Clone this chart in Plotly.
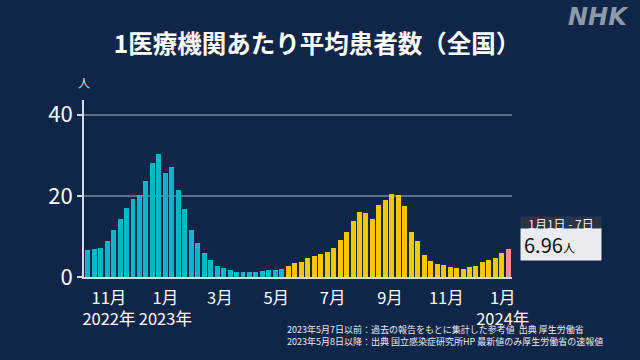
import pandas as pd
import plotly.graph_objects as go

# ---- data ----
weeks = pd.date_range("2022-10-09", "2024-01-07", freq="7D")  # week-ending dates (Sunday)

mhlw_values = [6.6, 6.8, 7.2, 8.8, 11.7, 14.2, 17.0, 19.2, 20.1, 23.7, 28.1, 30.2,
               25.6, 27.2, 21.5, 16.8, 11.5, 8.4, 5.8, 4.1, 2.7, 2.2, 1.7, 1.3,
               1.25, 1.2, 1.35, 1.4, 1.75, 1.8, 1.85]
niid_values = [2.63, 3.55, 3.6, 4.6, 5.1, 5.6, 6.1, 7.2, 9.1, 11.0, 13.9, 15.9,
               15.8, 14.4, 17.8, 19.0, 20.4, 20.1, 17.6, 11.0, 8.8, 5.3, 3.9, 3.3,
               2.9, 2.5, 2.1, 2.0, 2.4, 2.8, 3.6, 4.2, 4.7, 5.9]
latest_value = [6.96]

tick_dates = ["2022-11-01", "2023-01-01", "2023-03-01", "2023-05-01",
              "2023-07-01", "2023-09-01", "2023-11-01", "2024-01-01"]
tick_labels = ["11月<br>2022年", "1月<br>2023年", "3月", "5月", "7月", "9月", "11月", "1月<br>2024年"]

latest_label = "1月1日 - 7日"
y_ticks = [0, 20, 40]

# ---- style ----
BG = "#102648"
TEAL = "#00b9c6"
YELLOW = "#f8c700"
PINK = "#ef8f8f"
FONT = "Noto Sans CJK JP, Noto Sans, sans-serif"
bar_w = 5.4 * 24 * 3600 * 1000

n1 = len(mhlw_values)
n2 = len(niid_values)

fig = go.Figure()
fig.add_trace(go.Bar(x=weeks[:n1], y=mhlw_values, marker_color=TEAL, width=bar_w,
                     marker_line_width=0, hoverinfo="skip"))
fig.add_trace(go.Bar(x=weeks[n1:n1 + n2], y=niid_values, marker_color=YELLOW, width=bar_w,
                     marker_line_width=0, hoverinfo="skip"))
fig.add_trace(go.Bar(x=weeks[n1 + n2:], y=latest_value, marker_color=PINK, width=bar_w,
                     marker_line_width=0, hoverinfo="skip"))

last_x = weeks[-1]
last_y = latest_value[0]

annotations = [
    dict(text="人", xref="paper", yref="paper", x=0, y=1.10, xanchor="center",
         yanchor="middle", showarrow=False, font=dict(size=12, color="#d8dce2")),
    dict(text="2023年5月7日以前：過去の報告をもとに集計した参考値  出典 厚生労働省",
         xref="paper", yref="paper", x=0.4696, y=-0.299, xanchor="left", yanchor="middle",
         showarrow=False, font=dict(size=9, color="#e8eaee")),
    dict(text="2023年5月8日以降：出典 国立感染症研究所HP 最新値のみ厚生労働省の速報値",
         xref="paper", yref="paper", x=0.4696, y=-0.362, xanchor="left", yanchor="middle",
         showarrow=False, font=dict(size=9, color="#e8eaee")),
    dict(text=latest_label, xref="x", yref="y", x=last_x, y=last_y, xanchor="left",
         yanchor="middle", xshift=12, yshift=25.5, width=80, height=13, borderpad=0,
         bgcolor="#2b3542", align="center", showarrow=False,
         font=dict(size=12, color="#eceef0")),
    dict(text="6.96<span style='font-size:12px'>人</span>", xref="x", yref="y",
         x=last_x, y=last_y, xanchor="left", yanchor="middle", xshift=12, yshift=4,
         width=74, height=25, borderpad=3, bgcolor="#e9edf1", align="left",
         valign="middle", showarrow=False, font=dict(size=20, color="#111111")),
    dict(text="<b><i>NHK</i></b>", xref="paper", yref="paper", x=1.0, y=1.0,
         xanchor="center", yanchor="middle", showarrow=False,
         xshift=86, yshift=83,
         font=dict(size=24, color="#8f9aa8", family="DejaVu Sans")),
]

shapes = [
    dict(type="path", xref="x", yref="y", xsizemode="pixel", ysizemode="pixel",
         xanchor=last_x, yanchor=last_y, path="M 11 11 L 5 4 L 11 4 Z",
         fillcolor="#e9edf1", line=dict(width=0)),
]

fig.update_layout(
    width=640, height=360,
    paper_bgcolor=BG, plot_bgcolor=BG,
    margin=dict(l=84, r=128, t=100, b=83, autoexpand=False),
    showlegend=False, bargap=0,
    font=dict(family=FONT, color="white"),
    title=dict(text="<b>1医療機関あたり平均患者数（全国）</b>", x=317 / 640, xanchor="center",
               y=1 - 44 / 360, yanchor="middle", font=dict(size=24.5, color="white")),
    xaxis=dict(type="date", range=["2022-10-05", "2024-01-11"], tickvals=tick_dates,
               ticktext=tick_labels, tickangle=0, automargin=False, showgrid=False,
               zeroline=False, showline=True, linecolor="#d6dae0", linewidth=2, ticks="",
               ticklabelstandoff=5, tickfont=dict(size=16.5, color="white")),
    yaxis=dict(range=[0, 43.6], tickvals=y_ticks, automargin=False, showgrid=True,
               gridcolor="#5f6d82", gridwidth=1.5, zeroline=False, showline=True,
               linecolor="#d6dae0", linewidth=2, ticks="outside", ticklen=5, tickwidth=1.5,
               tickcolor="#d6dae0", tickfont=dict(size=22, color="white")),
    annotations=annotations,
    shapes=shapes,
)

fig.write_html("out.html", config={"displayModeBar": False},
               post_script="document.body.style.margin='0';")
